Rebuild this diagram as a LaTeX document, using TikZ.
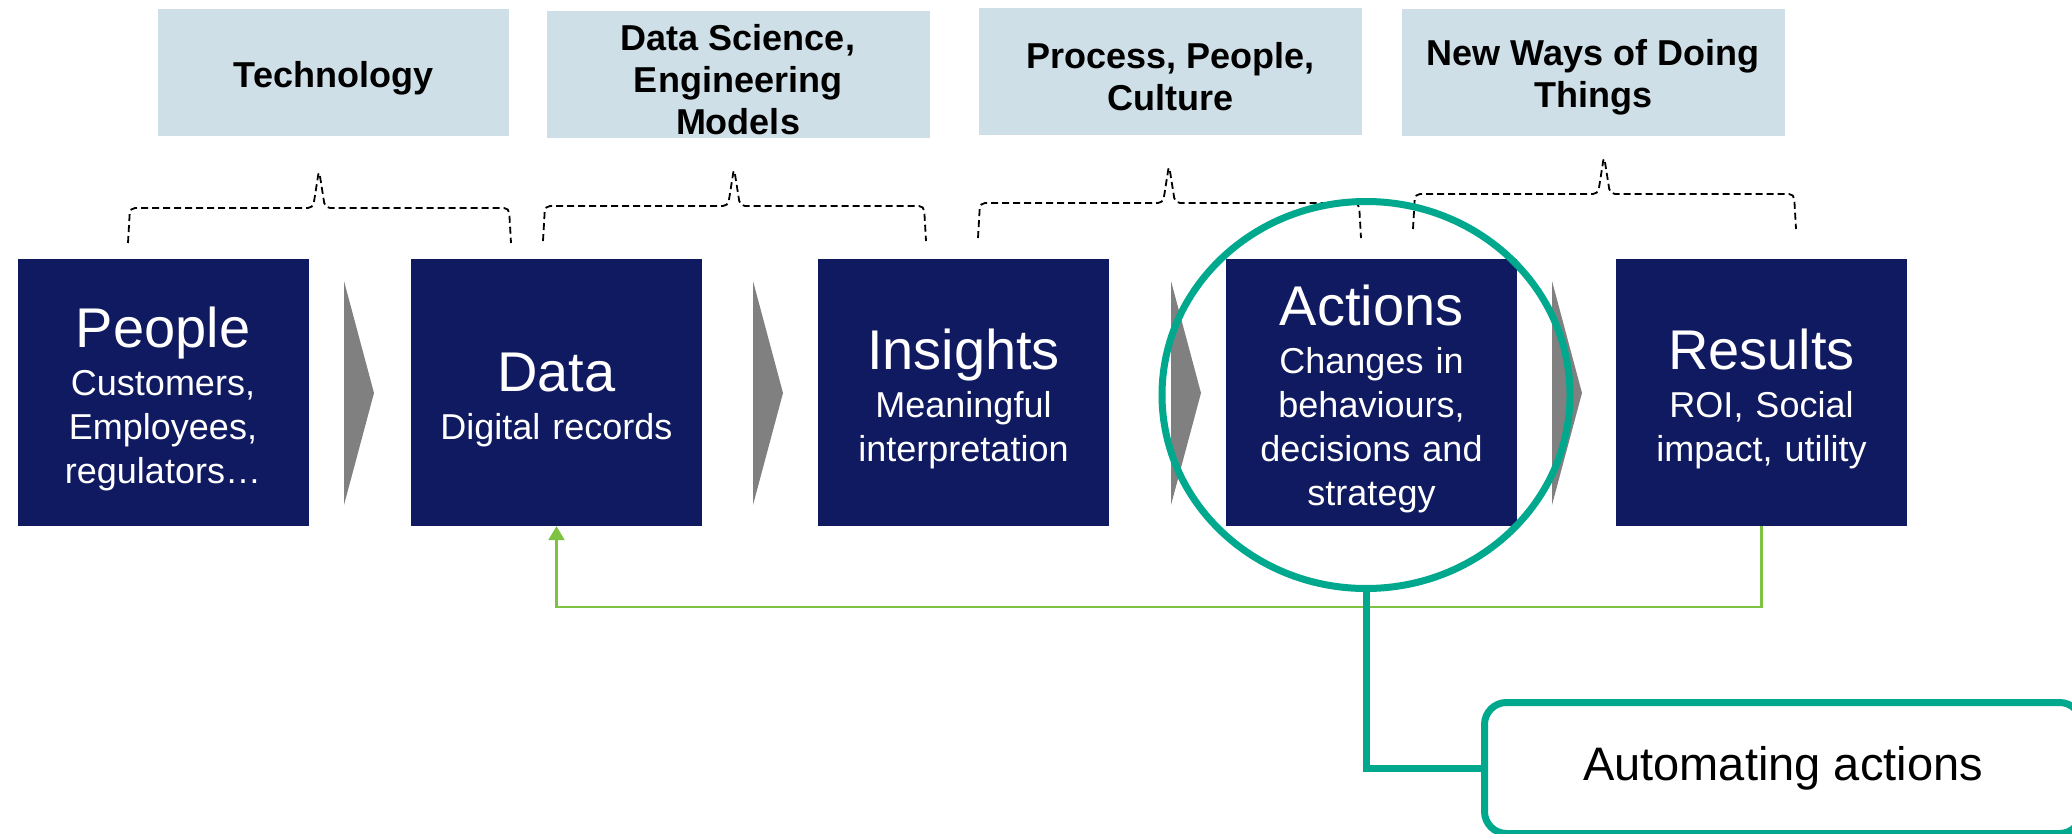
\documentclass[tikz,border=0pt]{standalone}
\usepackage{fontspec}
\setmainfont{Liberation Sans}
\usetikzlibrary{shapes.geometric,arrows.meta}
\definecolor{navy}{RGB}{16,26,96}
\definecolor{topicblue}{RGB}{207,223,231}
\definecolor{ringteal}{RGB}{0,168,142}
\definecolor{loopgreen}{RGB}{125,194,67}
\newcommand\stagetitle{\fontsize{56}{60}\selectfont\rule{0pt}{54pt}}
\newcommand\topicstrut{\rule{0pt}{36pt}}

\begin{document}
\begin{tikzpicture}[x=1pt,y=-1pt,
  topic/.style={fill=topicblue, minimum width=383pt, minimum height=127pt, inner sep=0pt,
    font=\fontsize{36}{42}\selectfont\bfseries, align=center},
  stage/.style={fill=navy, text=white, minimum width=291pt, minimum height=267pt, inner sep=0pt,
    text width=285pt, align=center, font=\fontsize{36}{44}\selectfont},
  bracket/.style={dash pattern=on 7pt off 4pt, line width=1.8pt, rounded corners=5pt},
  chevron/.style={fill=black!50},
  feedback/.style={loopgreen, line width=2.5pt, -{Triangle[width=16pt,length=14pt]}},
  callout/.style={ringteal, line width=7pt}]
\useasboundingbox (0,0) rectangle (2072,834);
\clip (0,0) rectangle (2072,834);

% topics
\node[topic, minimum width=351pt] (tech) at (333.5,73) {\topicstrut Technology};
\node[topic] (science) at (738,74.5) {\topicstrut Data Science,\\ Engineering\\ Models};
\node[topic] (culture) at (1170.5,71.5) {\topicstrut Process, People,\\ Culture};
\node[topic] (newways) at (1593,72.5) {\topicstrut New Ways of Doing\\ Things};

% dashed braces
\foreach \xa/\xm/\xb/\yb in {128/319/511/243, 543/734/926/241, 978/1169/1361/238, 1413/1604/1796/229}
  \draw[bracket] (\xa,\yb) -- (\xa+2,\yb-35) -- (\xm-6,\yb-35) -- (\xm,\yb-73)
    -- (\xm+6,\yb-35) -- (\xb-2,\yb-35) -- (\xb,\yb);

% chevrons
\foreach \xc in {344,753,1171,1552}
  \fill[chevron] (\xc,281) -- (\xc+30,393) -- (\xc,505) -- cycle;

% stages
\node[stage] (people) at (163,392.5) {{\stagetitle People}\\[4pt] Customers,\\ Employees,\\ regulators…};
\node[stage] (data) at (556.5,392.5) {{\stagetitle Data}\\[4pt] Digital records};
\node[stage] (insights) at (963.5,392.5) {{\stagetitle Insights}\\[4pt] Meaningful\\ interpretation};
\node[stage] (actions) at (1371.5,392.5) {{\stagetitle Actions}\\[4pt] Changes in\\ behaviours,\\ decisions and\\ strategy};
\node[stage] (results) at (1761.5,392.5) {{\stagetitle Results}\\[4pt] ROI, Social\\ impact, utility};

\draw[feedback] (results.south) -- ++(0,81) -| (data.south);

% highlight
\node[draw=ringteal, line width=7pt, ellipse, minimum width=408pt, minimum height=387pt, inner sep=0pt] (ring) at (1366,395) {};
\node[draw=ringteal, line width=7pt, fill=white, rounded corners=22pt, minimum width=597pt,
  minimum height=131pt, font=\fontsize{47}{56}\selectfont] (auto) at (1783,768) {Automating actions};
\draw[callout] (ring.south) |- (auto.west);

\end{tikzpicture}
\end{document}
